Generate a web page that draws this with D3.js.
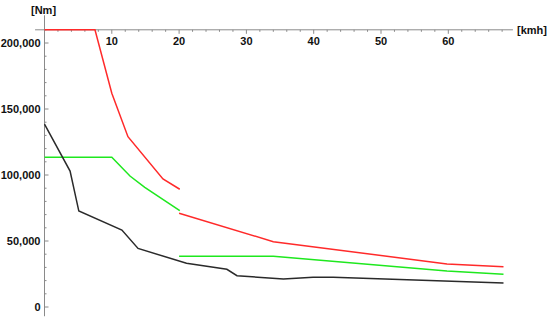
<!DOCTYPE html>
<html>
<head>
<meta charset="utf-8">
<script src="https://cdn.jsdelivr.net/npm/d3@7"></script>
<style>
  body { margin: 0; background: #fff; }
  text { font-family: "Liberation Sans", Arial, sans-serif; font-weight: bold; font-size: 11px; fill: #111; }
</style>
</head>
<body>
<svg id="chart"></svg>
<script>
const W = 550, H = 321;

// speed [kmh] / torque [Nm]
const redLow = [[0, 210000], [7.5, 210000], [10, 162000], [12.4, 129000], [17.6, 97000], [20.1, 89200]];
const redHigh = [[20, 71000], [34, 49500], [59.8, 32600], [68.2, 30500]];
const greenLow = [[0, 113400], [10, 113400], [12.7, 99200], [14.9, 90700], [20.1, 73000]];
const greenHigh = [[20, 38400], [34, 38400], [59.8, 27300], [68.2, 24800]];
const black = [[0, 138600], [3.8, 103000], [5.1, 72700], [11.5, 58300], [13.9, 44400], [21.1, 33100],
               [27.1, 28600], [28.6, 23700], [35.5, 21200], [39.9, 22500], [42.9, 22500], [68.2, 18200]];

const xTicks = [10, 20, 30, 40, 50, 60];
const yTicks = [0, 50000, 100000, 150000, 200000];

const series = [
    {pts: redLow, color: "#ff2a2a"},
    {pts: redHigh, color: "#ff2a2a"},
    {pts: greenLow, color: "#1ee81e"},
    {pts: greenHigh, color: "#1ee81e"},
    {pts: black, color: "#2a2a2a"}
];

const svg = d3.select("#chart").attr("width", W).attr("height", H);

const x = d3.scaleLinear().domain([0, 10]).range([44.5, 111.8]);
const y = d3.scaleLinear().domain([0, 50000]).range([307, 241]);

const axisY = 210000; // x axis sits at the top
const axisColor = "#8a8a8a";

// x axis line
svg.append("line")
    .attr("x1", x(-1.4)).attr("x2", x(69.6))
    .attr("y1", y(axisY)).attr("y2", y(axisY))
    .attr("stroke", axisColor).attr("stroke-width", 1);

// y axis line
svg.append("line")
    .attr("x1", x(0)).attr("x2", x(0))
    .attr("y1", y(221000)).attr("y2", y(-7000))
    .attr("stroke", axisColor).attr("stroke-width", 1);

// x ticks
const xMinor = d3.range(2, 70, 2).filter(v => v % 10 != 0);
svg.selectAll(".xminor").data(xMinor).enter().append("line")
    .attr("x1", d => x(d)).attr("x2", d => x(d))
    .attr("y1", y(axisY)).attr("y2", y(axisY) + 2)
    .attr("stroke", axisColor);
svg.selectAll(".xmajor").data(xTicks).enter().append("line")
    .attr("x1", d => x(d)).attr("x2", d => x(d))
    .attr("y1", y(axisY)).attr("y2", y(axisY) + 4)
    .attr("stroke", axisColor);
svg.selectAll(".xlab").data(xTicks).enter().append("text")
    .attr("x", d => x(d)).attr("y", y(axisY) + 15)
    .attr("text-anchor", "middle")
    .text(d => d);

// y ticks
const yMinor = d3.range(10000, 220000, 10000).filter(v => v % 50000 != 0);
svg.selectAll(".yminor").data(yMinor).enter().append("line")
    .attr("x1", x(0)).attr("x2", x(0) + 2)
    .attr("y1", d => y(d)).attr("y2", d => y(d))
    .attr("stroke", axisColor);
svg.selectAll(".ymajor").data(yTicks).enter().append("line")
    .attr("x1", x(0)).attr("x2", x(0) + 4)
    .attr("y1", d => y(d)).attr("y2", d => y(d))
    .attr("stroke", axisColor);
svg.selectAll(".ylab").data(yTicks).enter().append("text")
    .attr("x", x(0) - 4).attr("y", d => y(d) + 4)
    .attr("text-anchor", "end")
    .text(d => d3.format(",")(d));

// axis titles
svg.append("text").attr("x", 31).attr("y", 14).text("[Nm]");
svg.append("text").attr("x", 517).attr("y", 34).text("[kmh]");

// curves
const line = d3.line().x(d => x(d[0])).y(d => y(d[1]));
svg.selectAll(".curve").data(series).enter().append("path")
    .attr("d", d => line(d.pts))
    .attr("fill", "none")
    .attr("stroke", d => d.color)
    .attr("stroke-width", 1.5);
</script>
</body>
</html>
